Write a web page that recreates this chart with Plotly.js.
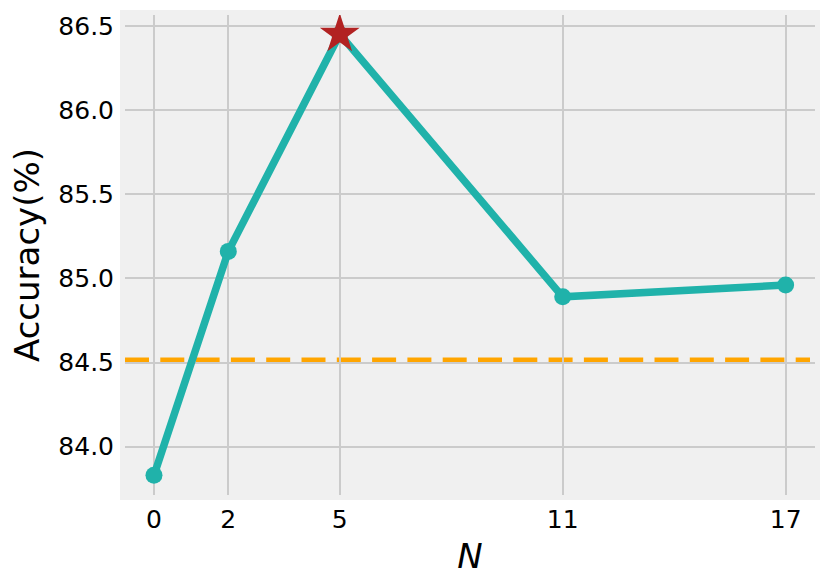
<!DOCTYPE html>
<html>
<head>
<meta charset="utf-8">
<script src="https://cdn.plot.ly/plotly-3.0.1.min.js"></script>
<style>
  html, body { margin: 0; padding: 0; background: #fff; }
  #chart { width: 830px; height: 586px; }
</style>
</head>
<body>
<div id="chart"></div>
<script>
// data
const nValues = [0, 2, 5, 11, 17];
const accuracy = [83.83, 85.16, 86.45, 84.89, 84.96];
const bestN = [5];
const bestAcc = [86.45];
const baselineAcc = 84.51;
const yTicks = [84.0, 84.5, 85.0, 85.5, 86.0, 86.5];

const teal = '#20b2aa';
const padX = 5 / 690, padY = 5 / 480;

const data = [
    {
        x: nValues, y: accuracy,
        mode: 'lines+markers', type: 'scatter',
        line: { color: teal, width: 7.5 },
        marker: { color: teal, size: 17 },
        hoverinfo: 'skip'
    },
    {
        x: bestN, y: bestAcc,
        mode: 'markers', type: 'scatter',
        marker: { symbol: 'star', color: '#b22222', size: 30, line: { width: 0 } },
        hoverinfo: 'skip'
    }
];

const layout = {
    width: 830, height: 586,
    margin: { l: 125, r: 15, t: 15, b: 91 },
    paper_bgcolor: '#ffffff',
    plot_bgcolor: '#f0f0f0',
    showlegend: false,
    font: { family: 'DejaVu Sans', color: '#000' },
    xaxis: {
        range: [-0.78, 17.79],
        tickvals: nValues,
        ticktext: nValues.map(String),
        tickfont: { size: 25 },
        showgrid: true, gridcolor: '#cbcbcb', gridwidth: 2,
        zeroline: false, showline: false, ticks: '',
        ticklabelstandoff: 7,
        title: { text: '<i>N</i>', font: { size: 34 }, standoff: 11 }
    },
    yaxis: {
        range: [83.713, 86.564],
        tickvals: yTicks,
        ticktext: yTicks.map(v => v.toFixed(1)),
        tickfont: { size: 25 },
        showgrid: true, gridcolor: '#cbcbcb', gridwidth: 2,
        zeroline: false, showline: false, ticks: '',
        ticklabelstandoff: 10,
        title: { text: 'Accuracy(%)', font: { size: 34 }, standoff: 8 }
    },
    shapes: [
        {
            type: 'rect', xref: 'paper', yref: 'paper', layer: 'below',
            x0: -padX, x1: 1 + padX, y0: -padY, y1: 1 + padY,
            fillcolor: '#f0f0f0', line: { width: 0 }
        },
        {
            type: 'line', xref: 'paper', yref: 'y', layer: 'below',
            x0: 0, x1: 1 - padX, y0: baselineAcc, y1: baselineAcc,
            line: { color: '#ffa500', width: 6.5, dash: '24px,11.3px' }
        }
    ]
};

Plotly.newPlot('chart', data, layout, { displayModeBar: false, staticPlot: true });
</script>
</body>
</html>
